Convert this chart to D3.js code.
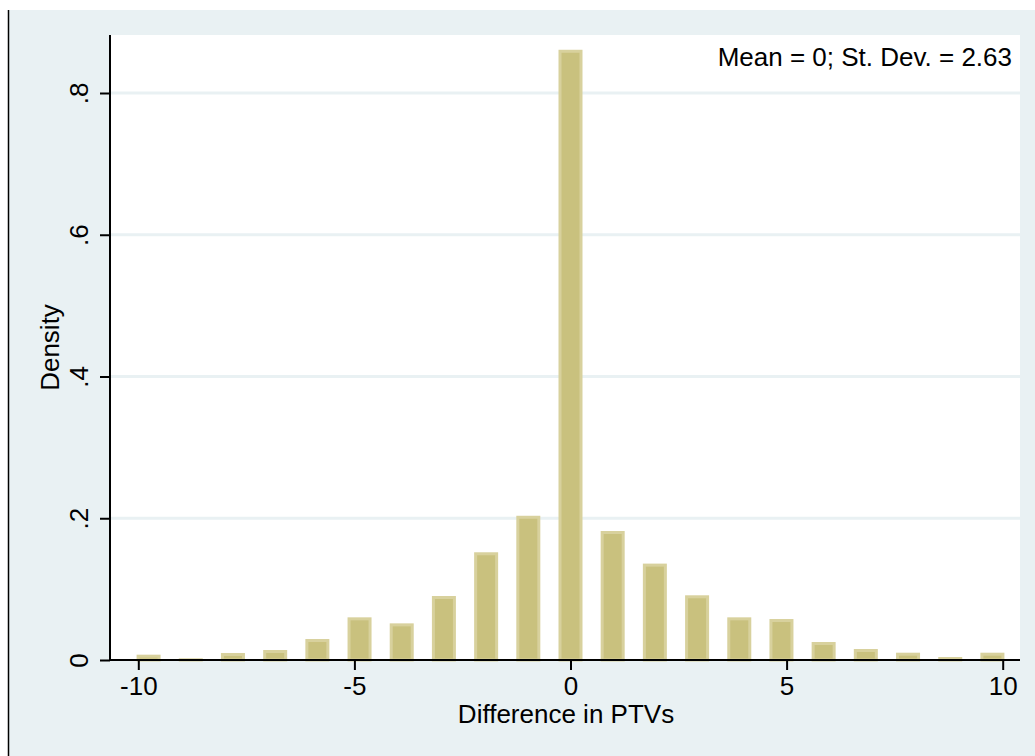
<!DOCTYPE html>
<html>
<head>
<meta charset="utf-8">
<script src="https://cdn.jsdelivr.net/npm/d3@7"></script>
<style>
  html, body { margin: 0; padding: 0; background: #ffffff; }
  svg { display: block; font-family: "Liberation Sans", Arial, sans-serif; }
</style>
</head>
<body>
<svg id="chart" width="1035" height="756"></svg>
<script>
// ---- data ----
const binCenters = [-9.762, -8.786, -7.810, -6.833, -5.857, -4.881, -3.905, -2.929, -1.952, -0.976,
                    0, 0.976, 1.952, 2.929, 3.905, 4.881, 5.857, 6.833, 7.810, 8.786, 9.762];
const density = [0.0075, 0.0024, 0.0099, 0.0141, 0.0296, 0.0602, 0.0517, 0.0903, 0.152, 0.2035,
                 0.861, 0.182, 0.136, 0.0913, 0.0602, 0.0578, 0.0254, 0.0155, 0.0103, 0.0042, 0.0103];
const xTicks = [-10, -5, 0, 5, 10];
const xTickLabels = ["-10", "-5", "0", "5", "10"];
const yTicks = [0, 0.2, 0.4, 0.6, 0.8];
const yTickLabels = ["0", ".2", ".4", ".6", ".8"];
const xTitle = "Difference in PTVs";
const yTitle = "Density";
const note = "Mean = 0; St. Dev. = 2.63";

// ---- layout ----
const svg = d3.select("#chart");
const bg = "#e9f1f3";
const plot = { left: 110, right: 1020, top: 35, bottom: 660 };
const fontSize = 26;

// background region
svg.append("rect").attr("x", 8).attr("y", 10).attr("width", 1027).attr("height", 746).attr("fill", bg);
svg.append("line").attr("x1", 8.5).attr("x2", 8.5).attr("y1", 10).attr("y2", 756)
   .attr("stroke", "#000").attr("stroke-width", 1.5);
// plot region
svg.append("rect").attr("x", plot.left).attr("y", plot.top)
   .attr("width", plot.right - plot.left).attr("height", plot.bottom - plot.top).attr("fill", "#fff");

const x = d3.scaleLinear().domain([-10, 10]).range([138.3, 1002.7]);
const y = d3.scaleLinear().domain([0, 0.8]).range([660, 93]);

// gridlines
svg.append("g").selectAll("line").data(yTicks.filter(d => d > 0)).join("line")
  .attr("x1", plot.left).attr("x2", plot.right)
  .attr("y1", d => y(d)).attr("y2", d => y(d))
  .attr("stroke", bg).attr("stroke-width", 3);

// bars
const barW = 24, sw = 3;
svg.append("g").selectAll("rect").data(binCenters).join("rect")
  .attr("x", (d) => x(d) - barW / 2 + sw / 2)
  .attr("width", barW - sw)
  .attr("y", (d, i) => y(density[i]) + sw / 2)
  .attr("height", (d, i) => Math.max(0, y(0) - y(density[i]) - sw / 2))
  .attr("fill", "#c9c17e")
  .attr("stroke", "#d8d19d")
  .attr("stroke-width", sw);

// x axis
const xAxis = d3.axisBottom(x).tickValues(xTicks).tickSize(10).tickPadding(7)
  .tickFormat((d, i) => xTickLabels[i]);
const gx = svg.append("g").attr("transform", `translate(0,${plot.bottom})`).call(xAxis);
gx.select(".domain").remove();
gx.append("line").attr("x1", plot.left).attr("x2", plot.right).attr("y1", 0).attr("y2", 0)
  .attr("stroke", "#000").attr("stroke-width", 2);
gx.selectAll(".tick line").attr("stroke", "#000").attr("stroke-width", 2);
gx.selectAll(".tick text").attr("fill", "#000").style("font-size", fontSize + "px")
  .style("font-family", "Liberation Sans, Arial, sans-serif");

// y axis
const yAxis = d3.axisLeft(y).tickValues(yTicks).tickSize(10).tickPadding(0)
  .tickFormat((d, i) => yTickLabels[i]);
const gy = svg.append("g").attr("transform", `translate(${plot.left},0)`).call(yAxis);
gy.select(".domain").remove();
gy.append("line").attr("x1", 0).attr("x2", 0).attr("y1", plot.top).attr("y2", plot.bottom)
  .attr("stroke", "#000").attr("stroke-width", 2);
gy.selectAll(".tick line").attr("stroke", "#000").attr("stroke-width", 2);
gy.selectAll(".tick text")
  .attr("x", 0).attr("y", 0).attr("dy", 0)
  .attr("text-anchor", "middle")
  .attr("transform", "translate(-22,0) rotate(-90)")
  .attr("fill", "#000").style("font-size", fontSize + "px")
  .style("font-family", "Liberation Sans, Arial, sans-serif");

// titles
svg.append("text").attr("x", (plot.left + plot.right) / 2 + 1).attr("y", 723)
  .attr("text-anchor", "middle").style("font-size", fontSize + "px").attr("fill", "#000").text(xTitle);
svg.append("text").attr("transform", `translate(59,${(plot.top + plot.bottom) / 2}) rotate(-90)`)
  .attr("text-anchor", "middle").style("font-size", fontSize + "px").attr("fill", "#000").text(yTitle);

// note
svg.append("text").attr("x", 1012).attr("y", 66).attr("text-anchor", "end")
  .style("font-size", fontSize + "px").attr("fill", "#000").text(note);
</script>
</body>
</html>
